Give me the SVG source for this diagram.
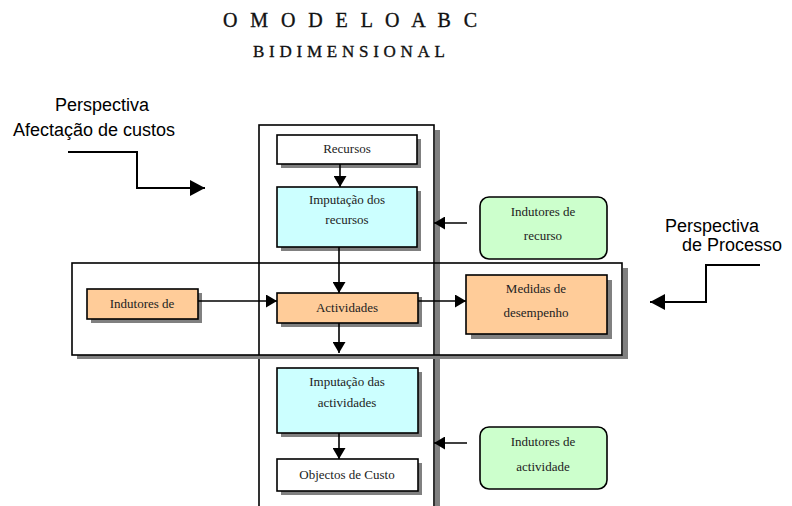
<svg xmlns="http://www.w3.org/2000/svg" width="792" height="506" viewBox="0 0 792 506">
  <style>
    .title { font-family: "Liberation Serif", "Times New Roman", serif; fill: #111; stroke: #111; stroke-width: 0.35; }
    .persp { font-family: "Liberation Sans", Arial, sans-serif; font-size: 18px; fill: #000; }
    .lbl { font-family: "Liberation Serif", "Times New Roman", serif; font-size: 13px; fill: #222; text-anchor: middle; }
    .box { stroke: #000; stroke-width: 1.6; }
    .shadow { fill: #808080; }
    .frame { fill: none; stroke: #000; stroke-width: 1.6; }
    .cyan { fill: #CCFFFF; }
    .green { fill: #CCFFCC; }
    .orange { fill: #FFCC99; }
    .white { fill: #FFFFFF; }
    .conn { fill: none; stroke: #000; stroke-width: 1.6; }
    .bend { fill: none; stroke: #000; stroke-width: 2; }
  </style>
  <defs>
    <marker id="head" markerUnits="userSpaceOnUse" markerWidth="13" markerHeight="13" refX="11" refY="6.5" orient="auto">
      <path d="M0,0 L11,6.5 L0,13 z" fill="#000"/>
    </marker>
    <marker id="bighead" markerUnits="userSpaceOnUse" markerWidth="16" markerHeight="16" refX="15" refY="8" orient="auto">
      <path d="M0,0 L15,8 L0,16 z" fill="#000"/>
    </marker>
  </defs>

  <rect width="792" height="506" fill="#FFFFFF"/>

  <!-- Title -->
  <g id="title">
    <text class="title" x="223" y="27" font-size="20" textLength="254" lengthAdjust="spacing">O M O D E L O A B C</text>
    <text class="title" x="253" y="57" font-size="17" textLength="192" lengthAdjust="spacing">BIDIMENSIONAL</text>
  </g>

  <!-- Perspective labels -->
  <g id="perspectiva-custos">
    <text class="persp" x="55" y="111">Perspectiva</text>
    <text class="persp" x="13" y="136">Afectação de custos</text>
  </g>
  <g id="perspectiva-processo">
    <text class="persp" x="665" y="232">Perspectiva</text>
    <text class="persp" x="682" y="251">de Processo</text>
  </g>

  <!-- Frames: vertical (cost allocation) and horizontal (process) -->
  <g id="frame-vertical">
    <rect class="shadow" x="435" y="130" width="5" height="380"/>
    <rect class="frame" x="259" y="125" width="175" height="385"/>
  </g>
  <g id="frame-horizontal">
    <rect class="shadow" x="623" y="268" width="5" height="91"/>
    <rect class="shadow" x="77" y="355" width="551" height="4"/>
    <rect class="frame" x="72" y="263" width="550" height="92"/>
  </g>

  <!-- Nodes -->
  <g id="recursos">
    <rect class="shadow" x="281" y="139" width="140" height="29"/>
    <rect class="box white" x="277" y="135" width="140" height="29"/>
    <text class="lbl" x="347" y="153">Recursos</text>
  </g>
  <g id="imputacao-recursos">
    <rect class="shadow" x="281" y="191" width="140" height="60"/>
    <rect class="box cyan" x="277" y="187" width="140" height="60"/>
    <text class="lbl" x="347" y="204">Imputação dos</text>
    <text class="lbl" x="347" y="224">recursos</text>
  </g>
  <g id="indutores-recurso">
    <rect class="box green" x="480" y="197" width="127" height="62" rx="9" ry="9" stroke-width="1" stroke="#555"/>
    <text class="lbl" x="543" y="216">Indutores de</text>
    <text class="lbl" x="543" y="240">recurso</text>
  </g>
  <g id="indutores-de">
    <rect class="shadow" x="91" y="293" width="111" height="30"/>
    <rect class="box orange" x="87" y="289" width="111" height="30"/>
    <text class="lbl" x="142" y="308">Indutores de</text>
  </g>
  <g id="actividades">
    <rect class="shadow" x="281" y="297" width="141" height="30"/>
    <rect class="box orange" x="277" y="293" width="141" height="30"/>
    <text class="lbl" x="347" y="312">Actividades</text>
  </g>
  <g id="medidas-desempenho">
    <rect class="shadow" x="471" y="280" width="141" height="59"/>
    <rect class="box orange" x="466" y="275" width="141" height="59"/>
    <text class="lbl" x="536" y="293">Medidas de</text>
    <text class="lbl" x="536" y="317">desempenho</text>
  </g>
  <g id="imputacao-actividades">
    <rect class="shadow" x="281" y="372" width="141" height="65"/>
    <rect class="box cyan" x="277" y="368" width="141" height="65"/>
    <text class="lbl" x="347" y="386">Imputação das</text>
    <text class="lbl" x="347" y="407">actividades</text>
  </g>
  <g id="objectos-custo">
    <rect class="shadow" x="281" y="463" width="141" height="32"/>
    <rect class="box white" x="277" y="459" width="141" height="32"/>
    <text class="lbl" x="347" y="479">Objectos de Custo</text>
  </g>
  <g id="indutores-actividade">
    <rect class="box green" x="480" y="427" width="127" height="62" rx="9" ry="9" stroke-width="1" stroke="#555"/>
    <text class="lbl" x="543" y="446">Indutores de</text>
    <text class="lbl" x="543" y="471">actividade</text>
  </g>

  <!-- Connectors -->
  <g id="connectors">
    <path class="conn" d="M340,164 L340,187" marker-end="url(#head)"/>
    <path class="conn" d="M339,247 L339,293" marker-end="url(#head)"/>
    <path class="conn" d="M339,323 L339,353" marker-end="url(#head)"/>
    <path class="conn" d="M198,301 L277,301" marker-end="url(#head)"/>
    <path class="conn" d="M418,301 L466,301" marker-end="url(#head)"/>
    <path class="conn" d="M339,433 L339,459" marker-end="url(#head)"/>
    <path class="conn" d="M467,223 L434,223" marker-end="url(#head)"/>
    <path class="conn" d="M467,443 L434,443" marker-end="url(#head)"/>
    <path class="bend" d="M68,152 H137 V188 H205" marker-end="url(#bighead)"/>
    <path class="bend" d="M760,265 H706 V302 H650" marker-end="url(#bighead)"/>
  </g>
</svg>
